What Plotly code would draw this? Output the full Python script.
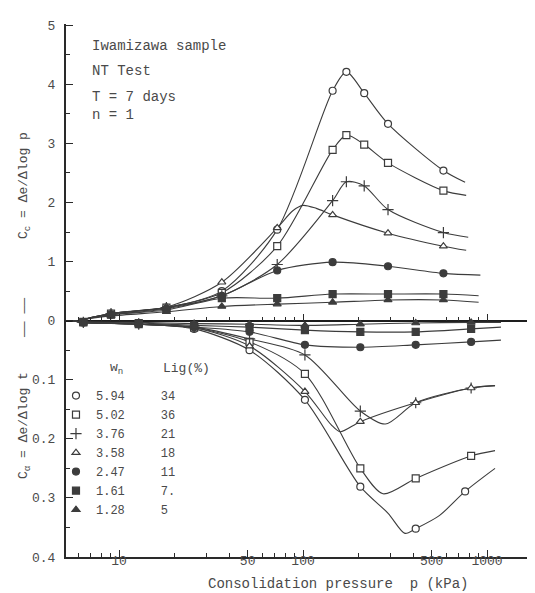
import plotly.graph_objects as go

# ---------------- data ----------------
WN = ["5.94", "5.02", "3.76", "3.58", "2.47", "1.61", "1.28"]
LIG = ["34", "36", "21", "18", "11", "7.", "5"]

# pressures (kPa) at which Cc (upper half) is plotted
CC_P = [9.05, 18.1, 36.2, 72.4, 144.8, 289.6, 579.2]
CC_P_FINE = [9.05, 18.1, 36.2, 72.4, 144.8, 172, 215, 289.6, 579.2]

cc_circle = [0.12, 0.22, 0.50, 1.54, 3.89, 4.21, 3.85, 3.33, 2.54]
cc_square = [0.12, 0.22, 0.47, 1.26, 2.89, 3.14, 2.98, 2.67, 2.20]
cc_plus = [0.12, 0.22, 0.42, 0.95, 2.03, 2.35, 2.28, 1.88, 1.49]
cc_tri = [0.12, 0.23, 0.65, 1.57, 1.79, 1.48, 1.26]
cc_fcircle = [0.10, 0.20, 0.42, 0.85, 0.99, 0.92, 0.80]
cc_fsquare = [0.10, 0.18, 0.38, 0.38, 0.45, 0.45, 0.45]
cc_ftri = [0.08, 0.15, 0.24, 0.28, 0.31, 0.35, 0.35]

# extra points (start, peaks, ends)
cc_start_p, cc_start_y = 6.4, 0.02
cc_circle_ext_p, cc_circle_ext_y = [760], [2.34]
cc_square_ext_p, cc_square_ext_y = [770], [2.12]
cc_plus_ext_p, cc_plus_ext_y = [790], [1.41]
cc_tri_ext_p, cc_tri_ext_y = [88, 100, 118, 770], [1.86, 1.95, 1.90, 1.19]
cc_fcircle_ext_p, cc_fcircle_ext_y = [920], [0.77]
cc_fsquare_ext_p, cc_fsquare_ext_y = [900], [0.42]
cc_ftri_ext_p, cc_ftri_ext_y = [900], [0.31]

# pressures (kPa) at which C_alpha (lower half) is plotted
CA_P = [6.4, 12.8, 25.6, 51.2, 102.4, 204.8, 409.6, 819.2]
CA_P_CIRCLE = [6.4, 12.8, 25.6, 51.2, 102.4, 204.8, 409.6, 760]

ca_circle = [0.003, 0.006, 0.014, 0.050, 0.134, 0.281, 0.352, 0.289]
ca_square = [0.003, 0.006, 0.012, 0.036, 0.090, 0.250, 0.267, 0.229]
ca_plus = [0.003, 0.006, 0.011, 0.031, 0.058, 0.153, 0.139, 0.114]
ca_tri = [0.003, 0.006, 0.012, 0.043, 0.120, 0.171, 0.139, 0.114]
ca_fcircle = [0.003, 0.006, 0.011, 0.019, 0.041, 0.045, 0.041, 0.036]
ca_fsquare = [0.002, 0.004, 0.008, 0.011, 0.016, 0.019, 0.019, 0.014]
ca_ftri = [0.002, 0.003, 0.005, 0.006, 0.008, 0.006, 0.004, 0.003]

ca_start_p, ca_start_y = 5.6, 0.0
ca_circle_ext_p, ca_circle_ext_y = [290, 358, 550, 1105], [0.326, 0.360, 0.330, 0.250]
ca_square_ext_p, ca_square_ext_y = [272, 1105], [0.293, 0.220]
ca_plus_ext_p, ca_plus_ext_y = [280, 1105], [0.175, 0.110]
ca_tri_ext_p, ca_tri_ext_y = [142, 159, 1105], [0.176, 0.188, 0.110]
ca_fcircle_ext_p, ca_fcircle_ext_y = [1190], [0.033]
ca_fsquare_ext_p, ca_fsquare_ext_y = [1190], [0.011]
ca_ftri_ext_p, ca_ftri_ext_y = [1190], [0.003]

# Y axis: upper half is Cc (0..5), lower half is C_alpha (0..0.4), drawn as -10*C_alpha
Y_TICKVALS = [-4, -3, -2, -1, 0, 1, 2, 3, 4, 5]
Y_TICKTEXT = ["0.4", "0.3", "0.2", "0.1", "0", "1", "2", "3", "4", "5"]
X_TICKVALS = [10, 50, 100, 500, 1000]
X_TICKTEXT = ["10", "50", "100", "500", "1000"]
X_MINOR = [6, 7, 8, 9, 20, 30, 40, 60, 70, 80, 90, 200, 300, 400, 600, 700, 800, 900]

# ---------------- styling ----------------
INK = "#3c3c3c"
TXT = "#4a4a4a"
FONT = "Liberation Mono"
LOWER_SCALE = 10.0

samples = [
    dict(sym="circle", fill="white", size=7,
         ccp=CC_P_FINE, ccy=cc_circle, cce=(cc_circle_ext_p, cc_circle_ext_y),
         cap=CA_P_CIRCLE, cay=ca_circle, cae=(ca_circle_ext_p, ca_circle_ext_y)),
    dict(sym="square", fill="white", size=7,
         ccp=CC_P_FINE, ccy=cc_square, cce=(cc_square_ext_p, cc_square_ext_y),
         cap=CA_P, cay=ca_square, cae=(ca_square_ext_p, ca_square_ext_y)),
    dict(sym="cross-thin", fill=INK, size=8,
         ccp=CC_P_FINE, ccy=cc_plus, cce=(cc_plus_ext_p, cc_plus_ext_y),
         cap=CA_P, cay=ca_plus, cae=(ca_plus_ext_p, ca_plus_ext_y)),
    dict(sym="triangle-up", fill="white", size=7,
         ccp=CC_P, ccy=cc_tri, cce=(cc_tri_ext_p, cc_tri_ext_y),
         cap=CA_P, cay=ca_tri, cae=(ca_tri_ext_p, ca_tri_ext_y)),
    dict(sym="circle", fill=INK, size=7,
         ccp=CC_P, ccy=cc_fcircle, cce=(cc_fcircle_ext_p, cc_fcircle_ext_y),
         cap=CA_P, cay=ca_fcircle, cae=(ca_fcircle_ext_p, ca_fcircle_ext_y)),
    dict(sym="square", fill=INK, size=7,
         ccp=CC_P, ccy=cc_fsquare, cce=(cc_fsquare_ext_p, cc_fsquare_ext_y),
         cap=CA_P, cay=ca_fsquare, cae=(ca_fsquare_ext_p, ca_fsquare_ext_y)),
    dict(sym="triangle-up", fill=INK, size=7,
         ccp=CC_P, ccy=cc_ftri, cce=(cc_ftri_ext_p, cc_ftri_ext_y),
         cap=CA_P, cay=ca_ftri, cae=(ca_ftri_ext_p, ca_ftri_ext_y)),
]


def merged(px, py, ex, ey, start):
    pts = sorted(list(zip(px, py)) + list(zip(ex, ey)) + [start])
    return [p for p, _ in pts], [v for _, v in pts]


fig = go.Figure()

# curves
for s in samples:
    lx, ly = merged(s["ccp"], s["ccy"], s["cce"][0], s["cce"][1], (cc_start_p, cc_start_y))
    fig.add_trace(go.Scatter(x=lx, y=ly, mode="lines", showlegend=False, hoverinfo="skip",
                             line=dict(color=INK, width=1.1, shape="spline", smoothing=0.8)))
    lx, ly = merged(s["cap"], s["cay"], s["cae"][0], s["cae"][1], (ca_start_p, ca_start_y))
    fig.add_trace(go.Scatter(x=lx, y=[-LOWER_SCALE * v for v in ly], mode="lines",
                             showlegend=False, hoverinfo="skip",
                             line=dict(color=INK, width=1.1, shape="spline", smoothing=0.8)))

# markers (+ legend entries)
for i, s in enumerate(samples):
    mk = dict(symbol=s["sym"], size=s["size"], color=s["fill"], line=dict(color=INK, width=1.2))
    name = WN[i] + "\u00a0" * 5 + LIG[i]
    fig.add_trace(go.Scatter(x=s["ccp"], y=s["ccy"], mode="markers", marker=mk,
                             name=name, showlegend=True))
    fig.add_trace(go.Scatter(x=s["cap"], y=[-LOWER_SCALE * v for v in s["cay"]], mode="markers",
                             marker=mk, showlegend=False))

# dummy trace so the tick-carrying axis on the zero line is drawn
fig.add_trace(go.Scatter(x=[None], y=[None], xaxis="x2", showlegend=False, hoverinfo="skip"))

x_range = [0.712, 3.304]
y_range = [-4.0, 5.02]

fig.update_layout(
    width=535, height=593,
    margin=dict(l=58, r=0, t=16, b=44),
    paper_bgcolor="white", plot_bgcolor="white",
    font=dict(family=FONT, color=TXT, size=13),
    xaxis=dict(type="log", range=x_range, showgrid=False, zeroline=False,
               showline=True, linecolor="#2a2a2a", linewidth=2,
               tickmode="array", tickvals=X_TICKVALS, ticktext=X_TICKTEXT,
               ticks="inside", ticklen=7, tickcolor="#2a2a2a", tickwidth=1,
               ticklabelstandoff=-10,
               tickfont=dict(family=FONT, size=13, color=TXT),
               minor=dict(tickmode="array", tickvals=X_MINOR, ticks="inside",
                          ticklen=4, tickcolor="#2a2a2a", tickwidth=1)),
    xaxis2=dict(type="log", range=x_range, overlaying="x", anchor="free", position=4 / 9.02,
                side="top", showgrid=False, zeroline=False, showline=False,
                showticklabels=False, tickmode="array", tickvals=[10, 100, 1000],
                ticks="outside", ticklen=7, tickcolor="#2a2a2a", tickwidth=1,
                minor=dict(tickmode="array", tickvals=X_MINOR, ticks="outside",
                           ticklen=4, tickcolor="#2a2a2a", tickwidth=1)),
    yaxis=dict(range=y_range, showgrid=False,
               zeroline=True, zerolinecolor="#1e1e1e", zerolinewidth=2,
               showline=True, linecolor="#2a2a2a", linewidth=2,
               tickmode="array", tickvals=Y_TICKVALS, ticktext=Y_TICKTEXT,
               ticks="inside", ticklen=7, tickcolor="#2a2a2a", tickwidth=1,
               ticklabelstandoff=6,
               tickfont=dict(family=FONT, size=13, color=TXT),
               minor=dict(tickmode="array",
                          tickvals=[-3.5, -2.5, -1.5, -0.5, 0.5, 1.5, 2.5, 3.5, 4.5],
                          ticks="inside", ticklen=4, tickcolor="#2a2a2a", tickwidth=1)),
    legend=dict(x=-0.021, y=0.33, xanchor="left", yanchor="top",
                bgcolor="rgba(0,0,0,0)", borderwidth=0,
                font=dict(family=FONT, size=12, color=TXT),
                itemsizing="trace", tracegroupgap=0),
    showlegend=True,
)


def px_to_paper(px, py):
    return (px - 58) / 477.0, (549 - py) / 533.0


annots = [
    ("Iwamizawa sample", 82, 38, "left", 0, 14),
    ("NT Test", 82, 63, "left", 0, 14),
    ("T = 7 days", 82, 89, "left", 0, 14),
    ("n = 1", 82, 107, "left", 0, 14),
    ("w<sub>n</sub>", 108, 360, "center", 0, 13),
    ("Lig(%)", 178, 360, "center", 0, 13),
    ("C<sub>c</sub> = \u0394e/\u0394log p", 16, 178, "center", -90, 13),
    ("C<sub>\u03b1</sub> = \u0394e/\u0394log t", 16, 418, "center", -90, 13),
    ("\u2014\u2014 \u2014\u2014", 16, 310, "center", -90, 13),
    ("Consolidation pressure  p (kPa)", 330, 576, "center", 0, 14),
]
for text, px, py, align, ang, size in annots:
    ax, ay = px_to_paper(px, py)
    fig.add_annotation(text=text.replace("  ", "\u00a0\u00a0"), x=ax, y=ay,
                       xref="paper", yref="paper",
                       xanchor=align if ang == 0 else "center", yanchor="middle",
                       showarrow=False, textangle=ang,
                       font=dict(family=FONT, size=size, color=TXT))

fig.write_html("out.html")
